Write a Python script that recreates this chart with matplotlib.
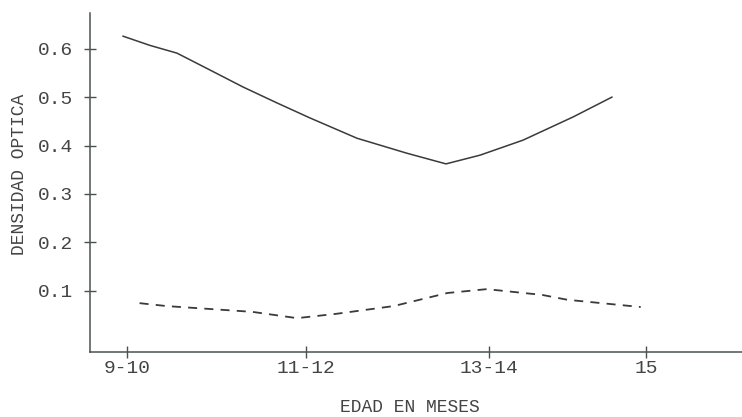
import matplotlib.pyplot as plt

# --- categories on the x axis (positions) ---
age_labels = ["9-10", "11-12", "13-14", "15"]
age_pos = [0.0, 1.0, 2.02, 2.9]

# --- solid curve ---
solid_x = [-0.022, 0.128, 0.279, 0.464, 0.648, 0.838, 1.022, 1.285, 1.564, 1.782,
           1.972, 2.212, 2.492, 2.709]
solid_y = [0.626, 0.607, 0.591, 0.556, 0.521, 0.488, 0.457, 0.415, 0.384, 0.362,
           0.380, 0.411, 0.459, 0.500]

# --- dashed curve ---
dash_x = [0.07, 0.22, 0.46, 0.70, 0.95, 1.17, 1.49, 1.79, 2.01, 2.32, 2.46, 2.87]
dash_y = [0.074, 0.068, 0.062, 0.056, 0.043, 0.052, 0.068, 0.095, 0.103, 0.091, 0.081, 0.066]

y_ticks = [0.1, 0.2, 0.3, 0.4, 0.5, 0.6]

ink = "#3a3a3a"
axis_col = "#4a5250"
font = "Liberation Mono"

fig = plt.figure(figsize=(7.42, 4.17), dpi=100)
ax = fig.add_axes([90 / 742, 1 - 352 / 417, 1 - 90 / 742, (352 - 13) / 417])

ax.plot(solid_x, solid_y, color=ink, lw=1.1)
ax.plot(dash_x, dash_y, color=ink, lw=1.3, dashes=(5, 4))

ax.set_xlim(-0.207, 3.436)
ax.set_ylim(-0.027, 0.674)

for s in ["top", "right"]:
    ax.spines[s].set_visible(False)
for s in ["left", "bottom"]:
    ax.spines[s].set_color(axis_col)
    ax.spines[s].set_linewidth(1.1)

ax.set_xticks(age_pos)
ax.set_xticklabels(age_labels)
ax.set_yticks(y_ticks)
ax.set_yticklabels([f"{v:.1f}" for v in y_ticks])
ax.tick_params(axis="both", direction="inout", length=8, width=1, color=axis_col,
               labelcolor="#444444", labelsize=14)
ax.tick_params(axis="y", pad=8)
ax.tick_params(axis="x", pad=2)
for lab in ax.get_xticklabels() + ax.get_yticklabels():
    lab.set_fontfamily(font)

fig.text(410 / 742, 1 - 407 / 417, "EDAD EN MESES", ha="center", va="center",
         fontsize=13, family=font, color="#444444")
fig.text(20 / 742, 1 - 174 / 417, "DENSIDAD OPTICA", ha="center", va="center",
         rotation=90, fontsize=13, family=font, color="#444444")

fig.savefig("out.png", dpi=100)
